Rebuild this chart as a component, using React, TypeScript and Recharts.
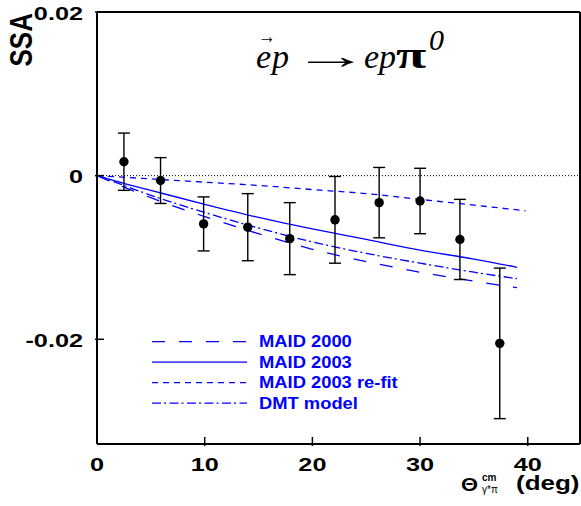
import React from "react";
import {
  ComposedChart,
  ErrorBar,
  Line,
  ReferenceLine,
  Scatter,
  XAxis,
  YAxis,
} from "recharts";

// Measured single-spin asymmetry points
const ANGLES = [2.5, 5.9, 9.9, 14.0, 17.9, 22.1, 26.2, 30.0, 33.7, 37.4];
const SSA = [0.0017, -0.0006, -0.0059, -0.0063, -0.0077, -0.0054, -0.0033, -0.0031, -0.0078, -0.0205];
const SSA_ERR = [0.0035, 0.0028, 0.0033, 0.0041, 0.0044, 0.0053, 0.0043, 0.004, 0.0049, 0.0092];

// Model curves
const MODEL_ANGLES = [0, 2.5, 5, 10, 15, 20, 25, 30, 35, 39];
const MAID_2000 = [0, -0.0014, -0.0027, -0.005, -0.0071, -0.009, -0.0105, -0.0118, -0.0129, -0.0137];
const MAID_2003 = [0, -0.00095, -0.0018, -0.0035, -0.0051, -0.0065, -0.0078, -0.0091, -0.0102, -0.0112];
const DMT = [0, -0.0012, -0.0024, -0.0045, -0.0064, -0.0081, -0.0095, -0.0107, -0.0118, -0.0126];
const REFIT_ANGLES = [0, 5, 10, 15, 20, 25, 30, 35, 39.8];
const MAID_2003_REFIT = [0, -0.0004, -0.0008, -0.0012, -0.0017, -0.0022, -0.0029, -0.0036, -0.0043];

const X_TICKS = [0, 10, 20, 30, 40];
const Y_TICKS = [-0.02, 0, 0.02];
const X_MAX = 44.85;
const Y_MIN = -0.0328;
const Y_MAX = 0.02;

const BLUE = "#0000ff";
const SANS = "'Liberation Sans', Arial, sans-serif";
const SERIF = "'Liberation Serif', 'Times New Roman', serif";

const points = ANGLES.map((x, i) => ({ x, y: SSA[i], err: SSA_ERR[i] }));
const curve = (xs: number[], ys: number[]) => xs.map((x, i) => ({ x, y: ys[i] }));

const LEGEND = [
  { label: "MAID 2000", dash: "13 14" },
  { label: "MAID 2003", dash: undefined },
  { label: "MAID 2003 re-fit", dash: "6 5" },
  { label: "DMT model", dash: "9 3 2 3.5" },
];

const yLabel = (v: number) => (v === 0 ? "0" : v.toFixed(2));

function YTick(props: any) {
  const { x, y, payload } = props;
  return (
    <g>
      <line x1={x} y1={y} x2={x + 9} y2={y} stroke="#000" strokeWidth={1.5} />
      <text
        transform={`translate(${x - 12},${y + 7.5}) scale(1.33,1)`}
        textAnchor="end"
        fontFamily={SANS}
        fontWeight="bold"
        fontSize={19}
        fill="#000"
      >
        {yLabel(payload.value)}
      </text>
    </g>
  );
}

function XTick(props: any) {
  const { x, y, payload } = props;
  return (
    <g>
      {payload.value !== 0 && (
        <line x1={x} y1={y} x2={x} y2={y - 9} stroke="#000" strokeWidth={1.5} />
      )}
      <text
        transform={`translate(${x},${y + 25}) scale(1.33,1)`}
        textAnchor="middle"
        fontFamily={SANS}
        fontWeight="bold"
        fontSize={19}
        fill="#000"
      >
        {payload.value}
      </text>
    </g>
  );
}

const Dot = (props: any) => <circle cx={props.cx} cy={props.cy} r={4.7} fill="#000" />;

export default function App() {
  return (
    <div style={{ position: "absolute", left: 0, top: 0, width: 581, height: 506, background: "#fff" }}>
      <ComposedChart width={581} height={506} margin={{ top: 12, right: 1, bottom: 0, left: 0 }}>
        <XAxis
          type="number"
          dataKey="x"
          domain={[0, X_MAX]}
          ticks={X_TICKS}
          allowDataOverflow
          height={62}
          tickSize={0}
          tickLine={false}
          axisLine={{ stroke: "#000", strokeWidth: 2 }}
          tick={<XTick />}
          interval={0}
        />
        <YAxis
          type="number"
          dataKey="y"
          domain={[Y_MIN, Y_MAX]}
          ticks={Y_TICKS}
          allowDataOverflow
          width={97}
          tickSize={0}
          tickLine={false}
          axisLine={{ stroke: "#000", strokeWidth: 2 }}
          tick={<YTick />}
          interval={0}
        />
        <ReferenceLine y={Y_MAX} stroke="#000" strokeWidth={2} />
        <ReferenceLine x={X_MAX} stroke="#000" strokeWidth={2} />
        <ReferenceLine y={0} stroke="#000" strokeWidth={1} strokeDasharray="1 2" />
        <Line
          data={curve(MODEL_ANGLES, MAID_2000)}
          dataKey="y"
          type="monotone"
          stroke={BLUE}
          strokeWidth={1.3}
          strokeDasharray="13 14"
          dot={false}
          isAnimationActive={false}
        />
        <Line
          data={curve(MODEL_ANGLES, MAID_2003)}
          dataKey="y"
          type="monotone"
          stroke={BLUE}
          strokeWidth={1.3}
          dot={false}
          isAnimationActive={false}
        />
        <Line
          data={curve(REFIT_ANGLES, MAID_2003_REFIT)}
          dataKey="y"
          type="monotone"
          stroke={BLUE}
          strokeWidth={1.3}
          strokeDasharray="6 5"
          dot={false}
          isAnimationActive={false}
        />
        <Line
          data={curve(MODEL_ANGLES, DMT)}
          dataKey="y"
          type="monotone"
          stroke={BLUE}
          strokeWidth={1.3}
          strokeDasharray="9 3 2 3.5"
          dot={false}
          isAnimationActive={false}
        />
        <Scatter data={points} dataKey="y" shape={<Dot />} isAnimationActive={false}>
          <ErrorBar dataKey="err" direction="y" width={6} stroke="#000" strokeWidth={1.4} />
        </Scatter>
      </ComposedChart>

      <svg
        width={581}
        height={506}
        style={{ position: "absolute", left: 0, top: 0, pointerEvents: "none" }}
      >
        {/* y title */}
        <text
          transform="translate(31.5,66.5) rotate(-90) scale(1,1.2)"
          fontFamily={SANS}
          fontWeight="bold"
          fontSize={26}
          fill="#000"
        >
          SSA
        </text>

        {/* reaction */}
        <g fontFamily={SERIF} fill="#000">
          <text x={256} y={68} fontSize={34} fontStyle="italic">e</text>
          <text x={272} y={68} fontSize={34} fontStyle="italic">p</text>
          <text transform="translate(258,43) scale(0.8,0.9)" fontSize={22}>→</text>
          <text transform="translate(293,68) scale(1.5,0.7)" fontSize={51}>→</text>
          <text x={364} y={68} fontSize={34} fontStyle="italic">ep</text>
          <text transform="translate(396,68) scale(1.45,1)" fontSize={38} fontWeight="bold">π</text>
          <text x={429} y={50} fontSize={30} fontStyle="italic">0</text>
        </g>

        {/* x title */}
        <text
          transform="translate(461,491) scale(1.15,1)"
          fontFamily={SANS}
          fontWeight="bold"
          fontSize={19}
          fill="#000"
        >
          Θ
        </text>
        <text x={482} y={481} fontFamily={SANS} fontWeight="bold" fontSize={10} fill="#000">cm</text>
        <text x={482} y={493} fontFamily={SANS} fontSize={10} fill="#000">γ*π</text>
        <text
          transform="translate(516,490) scale(1.3,1)"
          fontFamily={SANS}
          fontWeight="bold"
          fontSize={20}
          fill="#000"
        >
          (deg)
        </text>

        {/* legend */}
        {LEGEND.map((item, i) => {
          const y = 341.7 + i * 20.5;
          return (
            <g key={item.label}>
              <line
                x1={152}
                y1={y}
                x2={247}
                y2={y}
                stroke={BLUE}
                strokeWidth={1.3}
                strokeDasharray={item.dash}
              />
              <text
                transform={`translate(259,${y + 5.5}) scale(1.08,1)`}
                fontFamily={SANS}
                fontWeight="bold"
                fontSize={17}
                fill={BLUE}
              >
                {item.label}
              </text>
            </g>
          );
        })}
      </svg>
    </div>
  );
}
